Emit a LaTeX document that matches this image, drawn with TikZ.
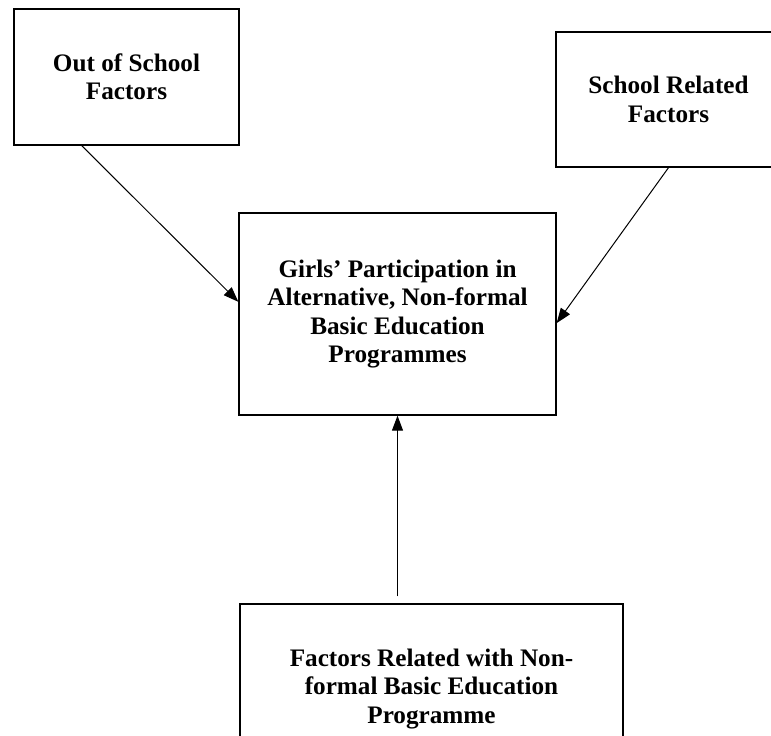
\documentclass[tikz,border=0pt]{standalone}
\usepackage{fontspec}
\setmainfont{Liberation Serif}
\usetikzlibrary{arrows.meta,calc}
\begin{document}
\begin{tikzpicture}[x=1pt,y=-1pt,
  box/.style={draw,line width=1.3pt,inner sep=0pt,align=center,
    font=\fontsize{25.2}{28.4}\selectfont\bfseries},
  conn/.style={line width=1pt,-{Triangle[length=15pt,width=11pt]}}]
\useasboundingbox (0,0) rectangle (771,736);
\clip (0,0) rectangle (771,736);
\node[box,minimum width=225pt,minimum height=136pt] (a) at (126.5,77) {Out of School\\Factors};
\node[box,minimum width=225pt,minimum height=135pt] (b) at (668.5,99.5) {School Related\\Factors};
\node[box,minimum width=317pt,minimum height=202pt] (c) at (397.5,314) {Girls’ Participation in\\Alternative, Non-formal\\Basic Education\\Programmes};
\node[box,minimum width=383pt,minimum height=170pt] (d) at (431.5,689) {Factors Related with Non-\\formal Basic Education\\Programme};
\coordinate (a1) at ($(a.south west)!0.302!(a.south east)$);
\coordinate (c1) at ($(c.north west)!0.44!(c.south west)$);
\coordinate (c2) at ($(c.north east)!0.545!(c.south east)$);
\coordinate (d1) at ($(c.south |- d.north)+(0,-7)$);
\draw[conn] (a1) -- (c1);
\draw[conn] (b.south) -- (c2);
\draw[conn] (d1) -- (c.south);
\end{tikzpicture}
\end{document}
